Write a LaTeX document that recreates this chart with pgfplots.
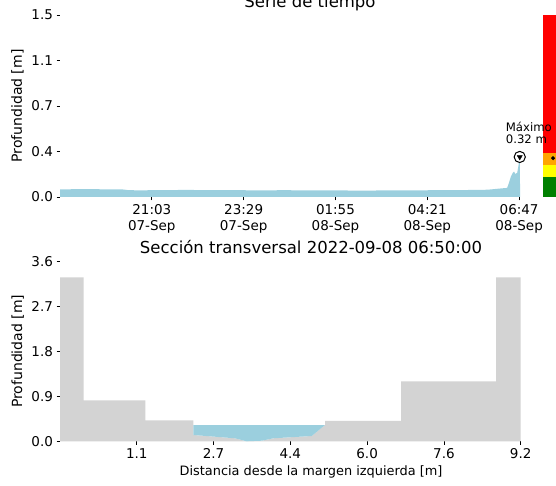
\documentclass[border=0pt]{standalone}
\usepackage{pgfplots}
\pgfplotsset{compat=1.18}
\usepackage{fontspec}
\setmainfont{DejaVu Sans}
\definecolor{agua}{RGB}{155,207,222}
\definecolor{lecho}{RGB}{211,211,211}
\definecolor{nivelverde}{RGB}{0,128,0}
\definecolor{nivelamarillo}{RGB}{255,255,0}
\definecolor{nivelnaranja}{RGB}{255,165,0}
\definecolor{nivelrojo}{RGB}{255,0,0}

\pgfplotsset{
  panel/.style={
    scale only axis,
    axis line style={draw=none},
    tick align=outside,
    major tick length=3.5pt,
    tick style={black, line width=0.8pt},
    xtick pos=bottom, ytick pos=left,
    ticklabel style={font=\fontsize{13.5}{16}\selectfont},
    /pgf/number format/assume math mode=true,
    clip=false,
  },
}

\begin{document}
\begin{tikzpicture}
\useasboundingbox (0,0) rectangle (556pt,485pt);

% Serie de tiempo (x en minutos desde 07-Sep 18:37)
\begin{axis}[
  panel,
  at={(60pt,288pt)}, anchor=south west,
  width=461pt, height=182pt,
  xmin=0, xmax=733, ymin=0, ymax=1.5,
  xtick={146,292,438,584,730},
  xticklabels={{21:03\\07-Sep},{23:29\\07-Sep},{01:55\\08-Sep},{04:21\\08-Sep},{06:47\\08-Sep}},
  xticklabel style={align=center},
  ytick={0,0.375,0.75,1.125,1.5},
  yticklabels={0.0,0.4,0.7,1.1,1.5},
  ylabel={Profundidad [m]},
  ylabel style={font=\fontsize{14}{16}\selectfont, at={(axis description cs:-0.092,0.5)}, anchor=center},
]
\addplot[fill=agua, draw=none] coordinates {
  (0,0.063)(20,0.064)(40,0.065)(60,0.064)(80,0.063)(100,0.062)(110,0.056)
  (130,0.055)(160,0.057)(200,0.058)(240,0.057)(280,0.056)(320,0.055)
  (360,0.056)(400,0.054)(440,0.054)(480,0.053)(520,0.054)(560,0.055)
  (600,0.056)(640,0.057)(680,0.060)(700,0.070)(711,0.075)(714,0.12)
  (717,0.17)(720,0.20)(722,0.21)(724,0.19)(727,0.20)(729,0.26)
  (730.5,0.32)(731.2,0.32)(731.5,0)
} \closedcycle;
% niveles de alerta
\addplot[fill=nivelverde, draw=none] coordinates {(768,0)(800,0)(800,0.165)(768,0.165)} --cycle;
\addplot[fill=nivelamarillo, draw=none] coordinates {(768,0.165)(800,0.165)(800,0.266)(768,0.266)} --cycle;
\addplot[fill=nivelnaranja, draw=none] coordinates {(768,0.266)(800,0.266)(800,0.365)(768,0.365)} --cycle;
\addplot[fill=nivelrojo, draw=none] coordinates {(768,0.365)(800,0.365)(800,1.5)(768,1.5)} --cycle;
\addplot[only marks, mark=*, mark size=1.8pt, black] coordinates {(784,0.32)};
% maximo
\addplot[only marks, mark=*, mark size=5.6pt, mark options={fill=white, draw=black, line width=1pt}] coordinates {(731,0.33)};
\addplot[only marks, mark=triangle*, mark size=3pt, mark options={rotate=180, fill=black, draw=black}] coordinates {(731,0.33)};
\node[anchor=base west, inner sep=0, font=\fontsize{11.7}{14}\selectfont] at (axis cs:708.6,0.536) {Máximo};
\node[anchor=base west, inner sep=0, font=\fontsize{11.7}{14}\selectfont] at (axis cs:708.6,0.445) {0.32 m};
\end{axis}

% Seccion transversal
\begin{axis}[
  panel,
  at={(60pt,43.7pt)}, anchor=south west,
  width=460.7pt, height=180pt,
  xmin=-0.5, xmax=9.2, ymin=0, ymax=3.6,
  xtick={1.1167,2.7333,4.35,5.9667,7.5833,9.2},
  xticklabels={1.1,2.7,4.4,6.0,7.6,9.2},
  ytick={0,0.9,1.8,2.7,3.6},
  yticklabels={0.0,0.9,1.8,2.7,3.6},
  ylabel={Profundidad [m]},
  ylabel style={font=\fontsize{14}{16}\selectfont, at={(axis description cs:-0.092,0.5)}, anchor=center},
  xlabel={Distancia desde la margen izquierda [m]},
  xlabel style={font=\fontsize{12.9}{15}\selectfont, at={(axis description cs:0.545,-0.171)}, anchor=center},
]
\addplot[fill=lecho, draw=none] coordinates {
  (-0.5,0)(-0.5,3.28)(0.0,3.28)(0.0,0.82)(1.3,0.82)(1.3,0.42)(2.31,0.42)
  (2.31,0.126)(3.18,0.06)(3.43,0.0)(3.75,0.012)(3.99,0.06)(4.80,0.106)
  (5.08,0.326)(5.08,0.41)(6.68,0.41)(6.68,1.2)(8.68,1.2)(8.68,3.28)
  (9.2,3.28)(9.2,0)
} --cycle;
\addplot[fill=agua, draw=none] coordinates {
  (2.31,0.126)(3.18,0.06)(3.43,0.0)(3.75,0.012)(3.99,0.06)(4.80,0.106)
  (5.08,0.326)(2.31,0.326)
} --cycle;
\end{axis}

\node[anchor=base, font=\fontsize{16.5}{18}\selectfont] at (310pt,477.5pt) {Serie de tiempo};
\node[anchor=base, font=\fontsize{16.5}{18}\selectfont] at (311pt,232pt) {Sección transversal 2022-09-08 06:50:00};
\end{tikzpicture}
\end{document}
